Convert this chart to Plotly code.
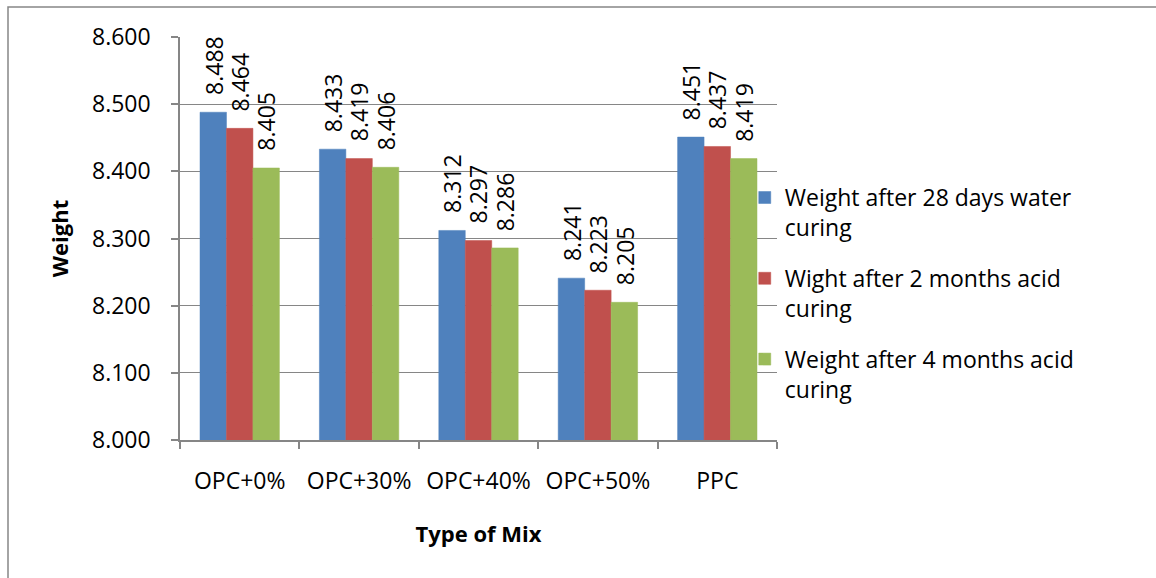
import plotly.graph_objects as go

# Mix types and measured weights
mixes = ["OPC+0%", "OPC+30%", "OPC+40%", "OPC+50%", "PPC"]
water_28d = [8.488, 8.433, 8.312, 8.241, 8.451]
acid_2m = [8.464, 8.419, 8.297, 8.223, 8.437]
acid_4m = [8.405, 8.406, 8.286, 8.205, 8.419]

series_names = [
    "Weight after 28 days water<br>curing",
    "Wight after 2 months acid<br>curing",
    "Weight after 4 months acid<br>curing",
]
series_values = [water_28d, acid_2m, acid_4m]
series_colors = ["#4F81BD", "#C0504D", "#9BBB59"]

y_ticks = [8.0, 8.1, 8.2, 8.3, 8.4, 8.5, 8.6]

FONT = "Open Sans"
GRID = "#868686"

W, H = 1156, 578
M_L, M_R, M_T, M_B = 180, 379, 37, 138
BARGAP = 0.335

fig = go.Figure()
for i, (name, vals, col) in enumerate(zip(series_names, series_values, series_colors)):
    fig.add_trace(go.Bar(
        x=mixes, y=vals, name=name,
        marker=dict(color=col, line=dict(color=col, width=0.5)),
        legendgroup=f"g{i}",
    ))

# Rotated value labels above each bar
plot_w = W - M_L - M_R
cat_w = plot_w / len(mixes)
bar_w = cat_w * (1 - BARGAP) / len(series_values)
annotations = []
for i, vals in enumerate(series_values):
    for m, v in zip(mixes, vals):
        annotations.append(dict(
            x=m, y=v, xref="x", yref="y",
            text=f"{v:.3f}", showarrow=False, textangle=-90,
            xanchor="center", yanchor="bottom",
            xshift=(i - 1) * bar_w, yshift=15,
            font=dict(family=FONT, size=23, color="black"),
        ))

fig.update_layout(
    width=W, height=H,
    margin=dict(l=M_L, r=M_R, t=M_T, b=M_B, autoexpand=False),
    paper_bgcolor="white", plot_bgcolor="white",
    barmode="group", bargap=BARGAP, bargroupgap=0,
    font=dict(family=FONT, size=23, color="black"),
    showlegend=True,
    legend=dict(
        x=0.946, xanchor="left", y=0.655, yanchor="top",
        bgcolor="rgba(0,0,0,0)", tracegroupgap=18, valign="top",
        font=dict(family=FONT, size=23, color="black"),
    ),
    annotations=annotations,
    shapes=[dict(
        type="rect", xref="paper", yref="paper",
        x0=(8 - M_L) / plot_w, x1=2,
        y0=-1, y1=(H - M_B - 7) / (H - M_T - M_B),
        line=dict(color=GRID, width=1.5), fillcolor="rgba(0,0,0,0)", layer="below",
    )],
)

fig.update_yaxes(
    range=[8.0, 8.6], tickvals=y_ticks, tickformat=".3f",
    showgrid=True, gridcolor=GRID, gridwidth=1,
    showline=True, linecolor=GRID, linewidth=1.5,
    ticks="outside", ticklen=7, tickcolor=GRID, tickwidth=1.5,
    ticklabelstandoff=16, zeroline=False,
    title=dict(text="<b>Weight</b>", font=dict(family=FONT, size=22, color="black"), standoff=17),
)
fig.update_xaxes(
    showline=True, linecolor=GRID, linewidth=1.5,
    ticks="outside", ticklen=7, tickcolor=GRID, tickwidth=1.5, tickson="boundaries",
    ticklabelstandoff=20, showgrid=False,
    title=dict(text="<b>Type of Mix</b>", font=dict(family=FONT, size=22, color="black"), standoff=31),
)

fig.write_html("out.html")
